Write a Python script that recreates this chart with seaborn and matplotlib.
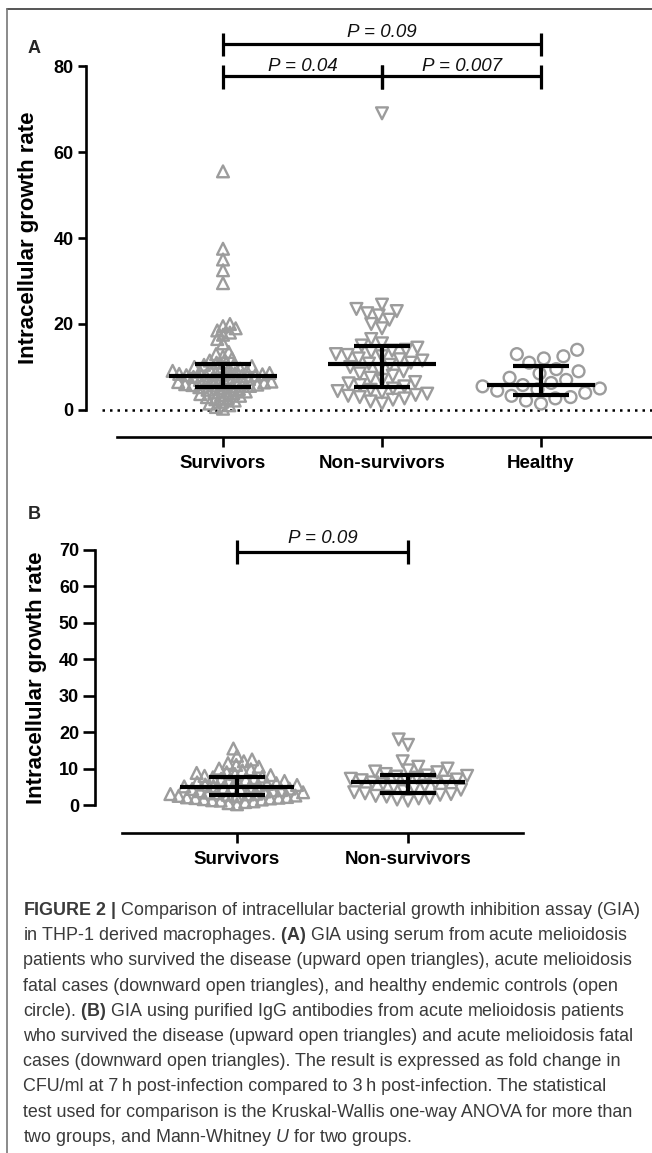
import matplotlib
matplotlib.use("Agg")
import matplotlib.pyplot as plt
import seaborn as sns
from matplotlib import font_manager
from matplotlib.lines import Line2D

# ---- data ----
a_groups = ["Survivors", "Non-survivors", "Healthy"]
a_survivors = [55.5, 37.5, 35, 32.5, 29.5,
               20, 19.5, 19, 18.5, 18, 17.5, 16.5, 15.5,
               13.5, 13, 12.5, 12, 11.5, 11, 11,
               10.5, 10.4, 10.2, 10, 9.8, 9.6, 9.5, 9.3, 9.1, 9, 8.9, 8.7, 8.6, 8.5, 8.4, 8.3, 8.2, 8.1, 8.05, 8,
               7.9, 7.7, 7.5, 7.3, 7.2, 7, 6.9, 6.8, 6.6, 6.5, 6.4, 6.3, 6.2, 6.1, 6, 5.9, 5.8, 5.7, 5.6, 5.5,
               5.3, 5.1, 4.9, 4.7, 4.5, 4.3, 4.1, 3.9, 3.7, 3.5, 3.3, 3.0, 2.8, 2.5, 2.2, 1.9, 1.5, 1.1, 0.7, 0.3]
a_nonsurvivors = [69,
                  24.5, 23.5, 23, 22.5, 22, 21, 20, 19,
                  16.5, 15.5, 15,
                  14.5, 14, 13.8, 13.5, 13, 12.8, 12.5, 12, 11.8, 11.5, 11, 10.8,
                  10.5, 10, 9.5, 9, 8.5, 8, 7.5, 7, 6.5, 6.2, 5.8, 5.5,
                  5, 4.7, 4.4, 4.1, 3.8, 3.5, 3.3, 3, 2.7, 2.4, 2, 1.5]
a_healthy = [14, 13, 12.5, 12, 11,
             9.5, 9, 8.5, 7.5, 7, 6.3,
             5.8, 5.5, 5, 4.8, 4.5, 4,
             3.3, 3, 2.7, 2.2, 1.5]
a_median = [7.9, 10.7, 5.9]
a_low = [5.4, 5.3, 3.6]
a_high = [10.7, 14.9, 10.2]
a_yticks = [0, 20, 40, 60, 80]

b_groups = ["Survivors", "Non-survivors"]
b_survivors = [15.5, 13.5, 12.5, 12, 11.5, 11, 10.5, 10, 9.8, 9.5, 9, 8.8, 8.5, 8.2, 8, 7.8,
               7.6, 7.4, 7.2, 7, 6.8, 6.6, 6.4, 6.2, 6, 5.8, 5.6, 5.5, 5.3, 5.2, 5.1, 5,
               4.8, 4.7, 4.5, 4.4, 4.3, 4.1, 4, 3.8, 3.7, 3.5, 3.4, 3.2, 3.1, 3, 2.9, 2.8,
               2.6, 2.5, 2.4, 2.2, 2.1, 2, 1.9, 1.8, 1.6, 1.5, 1.3, 1.2, 1, 0.8, 0.5, 0.2]
b_nonsurvivors = [18, 16.5, 12, 10.5, 10, 9.5, 9.2, 9, 8.5,
                  8.1, 8, 7.8, 7.5, 7.2, 7, 6.8, 6.6, 6.4,
                  6.2, 6, 5.7, 5.3, 5, 4.6, 4.2, 3.8, 3.5,
                  3.2, 3, 2.8, 2.5, 2.3, 2, 1.8, 1.5, 1.2]
b_median = [4.9, 6.3]
b_low = [2.7, 3.3]
b_high = [7.7, 8.2]
b_yticks = [0, 10, 20, 30, 40, 50, 60, 70]

a_pvalues = ["P = 0.09", "P = 0.04", "P = 0.007"]
b_pvalues = ["P = 0.09"]

caption_lines = [
    r"$\mathbf{FIGURE\ 2\ |}$ Comparison of intracellular bacterial growth inhibition assay (GIA)",
    r"in THP-1 derived macrophages. $\mathbf{(A)}$ GIA using serum from acute melioidosis",
    "patients who survived the disease (upward open triangles), acute melioidosis",
    "fatal cases (downward open triangles), and healthy endemic controls (open",
    r"circle). $\mathbf{(B)}$ GIA using purified IgG antibodies from acute melioidosis patients",
    "who survived the disease (upward open triangles) and acute melioidosis fatal",
    "cases (downward open triangles). The result is expressed as fold change in",
    "CFU/ml at 7\u2009h post-infection compared to 3\u2009h post-infection. The statistical",
    "test used for comparison is the Kruskal-Wallis one-way ANOVA for more than",
    r"two groups, and Mann-Whitney $\mathit{U}$ for two groups.",
]

# ---- style ----
sns.set_theme(style="white")
plt.rcParams["font.family"] = ["Liberation Sans", "DejaVu Sans"]
names = {f.name for f in font_manager.fontManager.ttflist}
cap_font = "Liberation Sans Narrow" if "Liberation Sans Narrow" in names else "Liberation Sans"
plt.rcParams["mathtext.fontset"] = "custom"
plt.rcParams["mathtext.rm"] = cap_font
plt.rcParams["mathtext.bf"] = cap_font + ":bold"
plt.rcParams["mathtext.it"] = cap_font + ":italic"

GRAY = "#9c9c9c"
W, H = 652, 1153
fig = plt.figure(figsize=(W / 100, H / 100), dpi=100)


def px_box(left, top, right, bottom):
    return [left / W, 1 - bottom / H, (right - left) / W, (bottom - top) / H]


swarms = []


def swarm(ax, values, group, order, marker, layout_size, size):
    n_before = len(ax.collections)
    sns.swarmplot(x=[group] * len(values), y=values, order=order, ax=ax,
                  marker=marker, size=layout_size, color=GRAY, warn_thresh=1)
    for coll in ax.collections[n_before:]:
        if len(coll.get_offsets()) > 0:
            swarms.append((coll, size))


def summary(ax, med, lo, hi, half_med, half_cap):
    for i in range(len(med)):
        ax.vlines(i, lo[i], hi[i], color="black", lw=3, zorder=5)
        ax.hlines([lo[i], hi[i]], i - half_cap, i + half_cap, color="black", lw=3, zorder=5)
        ax.hlines(med[i], i - half_med, i + half_med, color="black", lw=3, zorder=5)


def bracket(ax, x0, x1, y, c0, c1, text, ty):
    kw = dict(color="black", lw=2.3, clip_on=False, solid_capstyle="butt", zorder=6)
    ax.plot([x0, x1], [y, y], **kw)
    ax.plot([x0, x0], [c0, c1], **kw)
    ax.plot([x1, x1], [c0, c1], **kw)
    ax.text((x0 + x1) / 2, ty, text, ha="center", va="baseline", fontsize=13.5,
            style="italic", color="#111111")


def style_axes(ax, ybounds, xbounds, ytick_len):
    sns.despine(ax=ax)
    for s in ("left", "bottom"):
        ax.spines[s].set_linewidth(1.9)
        ax.spines[s].set_color("black")
    ax.spines["left"].set_bounds(*ybounds)
    ax.spines["bottom"].set_bounds(*xbounds)
    ax.tick_params(axis="y", direction="out", length=ytick_len, width=1.9, pad=3,
                   left=True, labelsize=13, colors="black")
    ax.tick_params(axis="x", direction="out", length=7, width=1.9, pad=6,
                   bottom=True, labelsize=13.5, colors="black")
    for lab in ax.get_xticklabels() + ax.get_yticklabels():
        lab.set_fontweight("bold")
    ax.set_xlabel("")
    ax.patch.set_alpha(0)


# ---- panel A ----
ax_a = fig.add_axes(px_box(86, 14, 652, 437))
swarm(ax_a, a_survivors, a_groups[0], a_groups, "^", 5.0, 8.5)
swarm(ax_a, a_nonsurvivors, a_groups[1], a_groups, "v", 8.0, 8.5)
swarm(ax_a, a_healthy, a_groups[2], a_groups, "o", 10.5, 8.5)
summary(ax_a, a_median, a_low, a_high, 0.34, 0.175)
ax_a.hlines(0, -0.76, 2.7, colors="black", linestyles=(0, (1, 2)), lw=1.8, zorder=1)
ppu_a = (410 - 66) / 80
ax_a.set_ylim(-(437 - 410) / ppu_a, (410 - 14) / ppu_a)
ax_a.set_xlim((86 - 223) / 159, (652 - 223) / 159)
ax_a.set_yticks(a_yticks)
ax_a.set_xticks(range(len(a_groups)))
ax_a.set_xticklabels(a_groups)
style_axes(ax_a, (0, 80), (-0.667, 2.7), 6)
ax_a.set_ylabel("Intracellular growth rate", fontsize=16, fontweight="bold", color="black")
ax_a.yaxis.set_label_coords(-0.083, (437 - 238) / (437 - 14))
bracket(ax_a, 0, 2, 85.1, 82.3, 87.7, a_pvalues[0], 86.7)
bracket(ax_a, 0, 1, 77.7, 74.7, 80.2, a_pvalues[1], 78.8)
bracket(ax_a, 1, 2, 77.7, 74.7, 80.2, a_pvalues[2], 78.8)

# ---- panel B ----
ax_b = fig.add_axes(px_box(95, 520, 652, 833))
swarm(ax_b, b_survivors, b_groups[0], b_groups, "^", 5.8, 8.5)
swarm(ax_b, b_nonsurvivors, b_groups[1], b_groups, "v", 7.5, 8.5)
summary(ax_b, b_median, b_low, b_high, 0.335, 0.165)
ppu_b = (805 - 550) / 70
ax_b.set_ylim(-(833 - 805) / ppu_b, (805 - 520) / ppu_b)
ax_b.set_xlim((95 - 237) / 171, (652 - 237) / 171)
ax_b.set_yticks(b_yticks)
ax_b.set_xticks(range(len(b_groups)))
ax_b.set_xticklabels(b_groups)
style_axes(ax_b, (0, 70), (-0.672, 1.673), 8.5)
ax_b.set_ylabel("Intracellular growth rate", fontsize=16, fontweight="bold", color="black")
ax_b.yaxis.set_label_coords(-0.086, (833 - 677.5) / (833 - 520))
bracket(ax_b, 0, 1, 69.4, 66.2, 72.7, b_pvalues[0], 71.9)

# panel letters
fig.text(28 / W, 1 - 53 / H, "A", fontsize=13, fontweight="bold", va="baseline")
fig.text(28 / W, 1 - 519 / H, "B", fontsize=13, fontweight="bold", va="baseline")

# frame (top and left edges)
fig.add_artist(Line2D([7 / W, 1], [1 - 9 / H, 1 - 9 / H], transform=fig.transFigure,
                      color="#555555", lw=1.4))
fig.add_artist(Line2D([7 / W, 7 / W], [0, 1 - 9 / H], transform=fig.transFigure,
                      color="#777777", lw=1.2))

# caption
cap_texts = []
for i, line in enumerate(caption_lines):
    t = fig.text(23 / W, 1 - (915 + 25.2 * i) / H, line, fontsize=13,
                 family=[cap_font, "DejaVu Sans"], color="#3a3a3a", va="baseline")
    cap_texts.append(t)

# lay out the swarms with small markers, then freeze and enlarge
fig.canvas.draw()
for coll, size in swarms:
    coll.__dict__.pop("draw", None)
    coll.set_sizes([size ** 2])
    coll.set_facecolor("none")
    coll.set_edgecolor(GRAY)
    coll.set_linewidth(1.7)
    coll.set_zorder(3)

# fit caption width to the reference (first line ~617 px)
w0 = cap_texts[0].get_window_extent().width
scale = 617 / w0
for t in cap_texts:
    t.set_fontsize(13 * scale)

fig.savefig("out.png", dpi=100)
